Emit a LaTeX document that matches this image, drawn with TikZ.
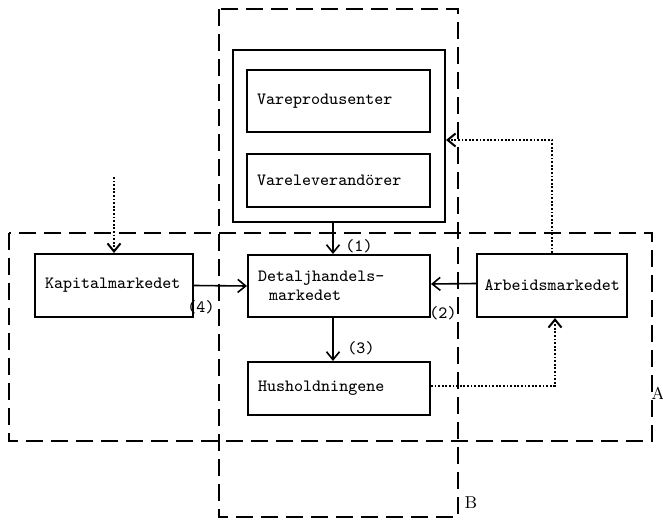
\documentclass[tikz,border=0pt]{standalone}
\usetikzlibrary{arrows.meta}
\tikzset{box/.style={draw,line width=1pt,align=left,inner xsep=5pt,inner ysep=0pt,
    font=\fontsize{8.6}{9.5}\selectfont\ttfamily}}
\tikzset{frame/.style={line width=0.9pt,dash pattern=on 8.5pt off 4pt}}
\tikzset{flow/.style={line width=0.8pt,-{Straight Barb[length=4pt,width=6.5pt]}}}
\tikzset{dots/.style={flow,line width=1pt,dash pattern=on 0.9pt off 0.9pt}}
\tikzset{lab/.style={inner sep=0pt,font=\fontsize{8.6}{9.5}\selectfont\ttfamily}}

\begin{document}
\begin{tikzpicture}[x=0.5pt,y=-0.5pt]
        \useasboundingbox (0,0) rectangle (663,523);
        % the two markets
        \draw[frame] (9,233) rectangle (652,441);
        \draw[frame] (219,9) rectangle (458,517);
        \node[lab,font=\fontsize{8.6}{9.5}\selectfont] at (658,393) {A};
        \node[lab,font=\fontsize{8.6}{9.5}\selectfont] at (471,503) {B};
        % suppliers
        \node[box,minimum width=106pt,minimum height=86pt] (vare) at (339,136) {};
        \node[box,text width=81.5pt,minimum height=31pt] (vareprod) at (338.5,101) {Vareprodusenter};
        \node[box,text width=81.5pt,minimum height=26.5pt] (varelev) at (338.5,180.5) {Vareleverand\"orer};
        % markets
        \node[box,text width=69pt,minimum height=31.5pt] (kapital) at (114,285.5) {Kapitalmarkedet};
        \node[box,text width=81pt,minimum height=31pt] (detalj) at (339,286) {Detaljhandels-\\\hspace*{5.5pt}markedet};
        \node[box,text width=67.5pt,inner xsep=3.75pt,minimum height=31.5pt] (arbeid) at (552,285.5) {Arbeidsmarkedet};
        \node[box,text width=81pt,minimum height=26.5pt] (hushold) at (339,388.5) {Husholdningene};
        \coordinate (kapin) at (114,177);
        % flows
        \draw[flow] ([xshift=-3pt]vare.south) -- ([xshift=-3pt]detalj.north);
        \draw[flow] ([xshift=-3pt]detalj.south) -- ([xshift=-3pt]hushold.north);
        \draw[flow] (kapital.east) -- (detalj.west);
        \draw[flow] ([yshift=1pt]arbeid.west) -- ([yshift=1pt]detalj.east);
        \draw[dots] (kapin) -- (kapital.north);
        \draw[dots] ([yshift=1.5pt]hushold.east) -| ([xshift=1.5pt]arbeid.south);
        \draw[dots] (arbeid.north) |- ([yshift=-2pt]vare.east);
        \node[lab] at (359,246) {(1)};
        \node[lab] at (443,313) {(2)};
        \node[lab] at (361,348) {(3)};
        \node[lab] at (201,307) {(4)};
\end{tikzpicture}
\end{document}
